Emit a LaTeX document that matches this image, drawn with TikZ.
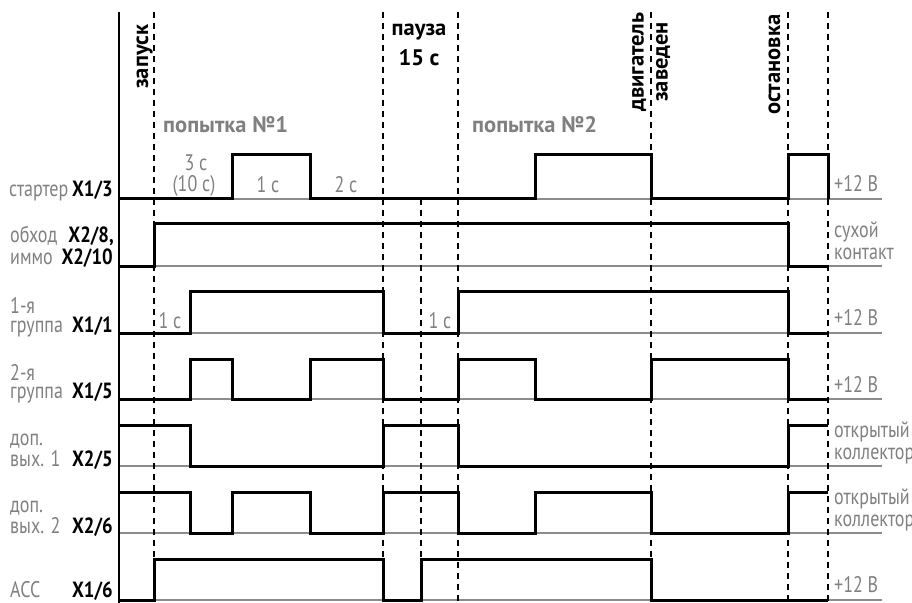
\documentclass[tikz,border=0pt]{standalone}
\usepackage{fontspec}
\newfontfamily\gfam{PT Sans}[FakeStretch=0.8]
\newfontfamily\xfam{PT Sans}[FakeStretch=0.85]
\newfontfamily\lfam{PT Sans}
\definecolor{txtgray}{RGB}{128,128,128}
\definecolor{linegray}{RGB}{140,140,140}
\begin{document}
\begin{tikzpicture}[x=1bp,y=-1bp,
  gt/.style={inner sep=0pt,text=txtgray,font=\gfam\fontsize{22.5bp}{24bp}\selectfont},
  bt/.style={inner sep=0pt,text=black,font=\xfam\bfseries\fontsize{22bp}{24bp}\selectfont},
  lt/.style={inner sep=0pt,text=black,font=\lfam\bfseries\fontsize{22.5bp}{24bp}\selectfont},
  glt/.style={inner sep=0pt,text=txtgray,font=\lfam\bfseries\fontsize{22.5bp}{24bp}\selectfont},
  baseln/.style={draw=linegray,line width=1.2bp},
  sig/.style={draw=black,line width=3bp,line join=miter},
  dashln/.style={draw=black,line width=1.3bp,dash pattern=on 6bp off 5bp},
  axisln/.style={draw=black,line width=2.5bp}]
\useasboundingbox (0,0) rectangle (912,603);
% baselines
\foreach \b in {199,266,333,399,466,533,600}
  \draw[baseln] (119,\b) -- (882,\b);
% dashed time markers
\foreach \t in {154,383,458,651,788,828}
  \draw[dashln] (\t,12) -- (\t,603);
\draw[dashln] (421,199) -- (421,603);
% axis
\draw[axisln] (119,12) -- (119,603);
% signals
\draw[sig] (119,199) -- (232,199) -- (232,155) -- (310,155) -- (310,199) -- (535,199) -- (535,155) -- (651,155) -- (651,199) -- (788,199) -- (788,155) -- (828,155) -- (828,199);
\draw[sig] (119,266) -- (154,266) -- (154,224) -- (788,224) -- (788,266) -- (828,266);
\draw[sig] (119,333) -- (190,333) -- (190,291) -- (383,291) -- (383,333) -- (458,333) -- (458,291) -- (788,291) -- (788,333) -- (828,333);
\draw[sig] (119,399) -- (190,399) -- (190,359) -- (232,359) -- (232,399) -- (310,399) -- (310,359) -- (383,359) -- (383,399) -- (458,399) -- (458,359) -- (535,359) -- (535,399) -- (651,399) -- (651,359) -- (788,359) -- (788,399) -- (828,399);
\draw[sig] (119,425) -- (190,425) -- (190,466) -- (383,466) -- (383,425) -- (458,425) -- (458,466) -- (788,466) -- (788,425) -- (828,425);
\draw[sig] (119,492) -- (190,492) -- (190,533) -- (232,533) -- (232,492) -- (310,492) -- (310,533) -- (383,533) -- (383,492) -- (458,492) -- (458,533) -- (535,533) -- (535,492) -- (651,492) -- (651,533) -- (788,533) -- (788,492) -- (828,492);
\draw[sig] (119,600) -- (154,600) -- (154,559) -- (383,559) -- (383,600) -- (421,600) -- (421,559) -- (651,559) -- (651,600) -- (828,600);
% left labels
\node[gt,anchor=base west] (l1a) at (9,197) {стартер};
\node[bt,anchor=base east] (l1b) at (113,197) {X1/3};
\node[gt,anchor=base west] (l2a) at (10,243) {обход};
\node[gt,anchor=base west] (l2b) at (10,265) {иммо};
\node[bt,anchor=base east] (l2c) at (114,243) {X2/8,};
\node[bt,anchor=base east] (l2d) at (113,265) {X2/10};
\node[gt,anchor=base west] (l3a) at (10,313) {1-я};
\node[gt,anchor=base west] (l3b) at (10,332) {группа};
\node[bt,anchor=base east] (l3c) at (113,332) {X1/1};
\node[gt,anchor=base west] (l4a) at (10,380) {2-я};
\node[gt,anchor=base west] (l4b) at (10,398) {группа};
\node[bt,anchor=base east] (l4c) at (113,398) {X1/5};
\node[gt,anchor=base west] (l5a) at (10,445) {доп.};
\node[gt,anchor=base west] (l5b) at (10,466) {вых. 1};
\node[bt,anchor=base east] (l5c) at (113,466) {X2/5};
\node[gt,anchor=base west] (l6a) at (10,512) {доп.};
\node[gt,anchor=base west] (l6b) at (10,533) {вых. 2};
\node[bt,anchor=base east] (l6c) at (113,533) {X2/6};
\node[gt,anchor=base west] (l7a) at (10,597) {ACC};
\node[bt,anchor=base east] (l7b) at (113,597) {X1/6};
% top labels
\node[lt,rotate=90,anchor=base west] (tzap) at (148,89) {запуск};
\node[lt,anchor=base] (tpau) at (419,36) {пауза};
\node[lt,anchor=base] (t15) at (419,66) {15 с};
\node[lt,rotate=90,align=center] (tdvig) at (651,62) {двигатель\\заведен};
\node[lt,rotate=90,anchor=base west] (tost) at (780,115) {остановка};
\node[glt,anchor=base west] (tp1) at (163,133) {попытка №1};
\node[glt,anchor=base west] (tp2) at (472,133) {попытка №2};
% durations
\node[gt,anchor=base] (d3) at (196,171) {3 с};
\node[gt,anchor=base] (d10) at (194,192) {(10 с)};
\node[gt,anchor=base] (d1) at (268,193) {1 с};
\node[gt,anchor=base] (d2) at (346,193) {2 с};
\node[gt,anchor=base] (d1a) at (170,328) {1 с};
\node[gt,anchor=base] (d1b) at (440,328) {1 с};
% right labels
\node[gt,anchor=base west] (r1) at (834,192) {+12 В};
\node[gt,anchor=base west] (r2a) at (834,238) {сухой};
\node[gt,anchor=base west] (r2b) at (834,260) {контакт};
\node[gt,anchor=base west] (r3) at (834,325) {+12 В};
\node[gt,anchor=base west] (r4) at (834,392) {+12 В};
\node[gt,anchor=base west] (r5a) at (834,437) {открытый};
\node[gt,anchor=base west] (r5b) at (834,459) {коллектор};
\node[gt,anchor=base west] (r6a) at (834,504) {открытый};
\node[gt,anchor=base west] (r6b) at (834,526) {коллектор};
\node[gt,anchor=base west] (r7) at (834,592) {+12 В};
\end{tikzpicture}
\end{document}
